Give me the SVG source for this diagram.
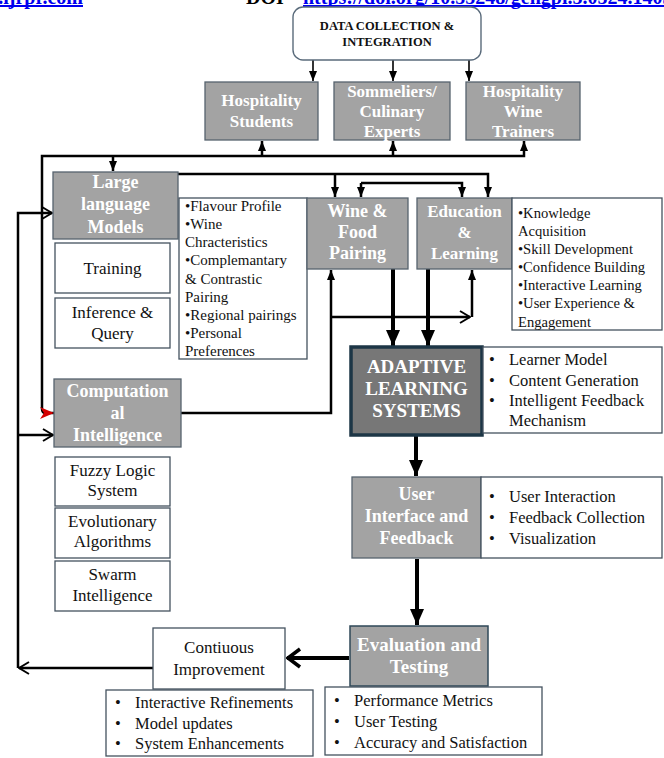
<svg xmlns="http://www.w3.org/2000/svg" width="664" height="758" viewBox="0 0 664 758">
<style>
.g{fill:#a3a3a3;stroke:#56636e;stroke-width:1.3}
.w{fill:#fff;stroke:#44525f;stroke-width:1.3}
.tb{font-family:"Liberation Serif",serif;font-weight:bold;fill:#fff;text-anchor:middle;font-size:18px}
.tc{font-family:"Liberation Serif",serif;fill:#111;text-anchor:middle;font-size:17px}
.t{font-family:"Liberation Serif",serif;fill:#111;font-size:15px}
.tl{font-family:"Liberation Serif",serif;fill:#111;font-size:16.5px}
.c{fill:none;stroke:#000;stroke-width:2.5}
.c1{fill:none;stroke:#000;stroke-width:1.6}
.ck{fill:none;stroke:#000;stroke-width:4}
.hd{font-family:"Liberation Serif",serif;font-weight:bold;font-size:20px}
</style>
<defs>
<marker id="a1" markerUnits="userSpaceOnUse" markerWidth="10" markerHeight="10" viewBox="0 0 10 10" refX="10" refY="5" orient="auto"><path d="M0,1 L10,5 L0,9 z" fill="#000"/></marker>
<marker id="a2" markerUnits="userSpaceOnUse" markerWidth="16" markerHeight="16" viewBox="0 0 16 16" refX="16" refY="8" orient="auto"><path d="M0,1 L16,8 L0,15 z" fill="#000"/></marker>
<marker id="o1" markerUnits="userSpaceOnUse" markerWidth="12" markerHeight="14" viewBox="0 0 12 14" refX="11" refY="7" orient="auto"><path d="M1,1 L11,7 L1,13" fill="none" stroke="#000" stroke-width="2"/></marker>
<marker id="o2" markerUnits="userSpaceOnUse" markerWidth="16" markerHeight="22" viewBox="0 0 16 22" refX="15" refY="11" orient="auto"><path d="M2,2 L14,11 L2,20" fill="none" stroke="#000" stroke-width="3.5"/></marker>
<marker id="r1" markerUnits="userSpaceOnUse" markerWidth="14" markerHeight="12" viewBox="0 0 14 12" refX="14" refY="6" orient="auto"><path d="M0,0 L14,6 L0,12 L4,6 z" fill="#d40000"/></marker>
</defs>

<g id="header">
<text class="hd" x="83" y="4" text-anchor="end" fill="#0000ee">www.ijrpr.com</text>
<line x1="0" y1="6" x2="83" y2="6" stroke="#0000ee" stroke-width="2.2"/>
<text class="hd" x="246" y="4" fill="#000">DOI</text>
<text class="hd" x="303" y="4" fill="#0000ee">https://doi.org/10.55248/gengpi.5.0524.1403</text>
<line x1="303" y1="6" x2="664" y2="6" stroke="#0000ee" stroke-width="2.2"/>
</g>

<g id="connectors">
<path class="c1" d="M313 60 V81" marker-end="url(#a1)"/>
<path class="c1" d="M393 60 V81" marker-end="url(#a1)"/>
<path class="c1" d="M469 60 V81" marker-end="url(#a1)"/>
<path class="c" d="M42 409 V156 H524 V141" marker-end="url(#a1)"/>
<path class="c" d="M262 156 V141" marker-end="url(#a1)"/>
<path class="c" d="M393 156 V141" marker-end="url(#a1)"/>
<path class="c" d="M113 156 V171" marker-end="url(#a1)"/>
<path class="c" d="M42 409 Q42 413 46 413 H54" marker-end="url(#r1)"/>
<path class="c" d="M178 174 H488 V197" marker-end="url(#a1)"/>
<path class="c" d="M335 174 V197" marker-end="url(#a1)"/>
<path class="c" d="M361 183 V197" marker-end="url(#a1)"/>
<path class="c" d="M361 183 H462 V197" marker-end="url(#a1)"/>
<path class="c" d="M153 668 H19" marker-end="url(#o1)"/>
<path class="c" d="M18 668 V213 H52" marker-end="url(#o1)"/>
<path class="c" d="M18 435 H53" marker-end="url(#o1)"/>
<path class="c" d="M181 413 H331 V270" marker-end="url(#a1)"/>
<path class="c" d="M331 317 H470" marker-end="url(#o1)"/>
<path class="c" d="M472 317 V270" marker-end="url(#a1)"/>
<path class="ck" d="M393 269 V346" marker-end="url(#a2)"/>
<path class="ck" d="M428 269 V346" marker-end="url(#a2)"/>
<path class="ck" d="M416 436 V476" marker-end="url(#a2)"/>
<path class="ck" d="M417 559 V625" marker-end="url(#a2)"/>
<path class="ck" d="M349 658 H287" marker-end="url(#o2)"/>
</g>

<g id="data-collection">
<rect x="293" y="7" width="188" height="53" rx="10" fill="#fff" stroke="#5a6b7b" stroke-width="1.4"/>
<text x="387" y="30" font-family="Liberation Serif,serif" font-weight="bold" font-size="12.5" text-anchor="middle" fill="#111">DATA COLLECTION &amp;</text>
<text x="387" y="46" font-family="Liberation Serif,serif" font-weight="bold" font-size="12.5" text-anchor="middle" fill="#111">INTEGRATION</text>
</g>

<g id="hospitality-students">
<rect class="g" x="205" y="82" width="113" height="58"/>
<text class="tb" style="font-size:17px" x="261.5" y="106">Hospitality</text>
<text class="tb" style="font-size:17px" x="261.5" y="127">Students</text>
</g>
<g id="sommeliers">
<rect class="g" x="334" y="82" width="116" height="58"/>
<text class="tb" style="font-size:17px" x="392" y="97">Sommeliers/</text>
<text class="tb" style="font-size:17px" x="392" y="117">Culinary</text>
<text class="tb" style="font-size:17px" x="392" y="137">Experts</text>
</g>
<g id="wine-trainers">
<rect class="g" x="466" y="82" width="114" height="58"/>
<text class="tb" style="font-size:17px" x="523" y="97">Hospitality</text>
<text class="tb" style="font-size:17px" x="523" y="117">Wine</text>
<text class="tb" style="font-size:17px" x="523" y="137">Trainers</text>
</g>

<g id="llm">
<rect class="g" x="53" y="172" width="125" height="67"/>
<text class="tb" x="115.5" y="188">Large</text>
<text class="tb" x="115.5" y="210">language</text>
<text class="tb" x="115.5" y="233">Models</text>
</g>
<g id="training">
<rect class="w" x="55" y="243" width="115" height="50"/>
<text class="tc" x="112.5" y="274">Training</text>
</g>
<g id="inference">
<rect class="w" x="55" y="298" width="115" height="50"/>
<text class="tc" x="112.5" y="318">Inference &amp;</text>
<text class="tc" x="112.5" y="339">Query</text>
</g>
<g id="wine-bullets">
<rect class="w" x="179" y="198" width="128" height="161"/>
<text class="t" x="185" y="211">•Flavour Profile</text>
<text class="t" x="185" y="229">•Wine</text>
<text class="t" x="185" y="247">Chracteristics</text>
<text class="t" x="185" y="265">•Complemantary</text>
<text class="t" x="185" y="284">&amp; Contrastic</text>
<text class="t" x="185" y="302">Pairing</text>
<text class="t" x="185" y="320">•Regional pairings</text>
<text class="t" x="185" y="338">•Personal</text>
<text class="t" x="185" y="356">Preferences</text>
</g>
<g id="wine-food">
<rect class="g" x="307" y="198" width="101" height="71"/>
<text class="tb" x="357.5" y="217">Wine &amp;</text>
<text class="tb" x="357.5" y="238">Food</text>
<text class="tb" x="357.5" y="259">Pairing</text>
</g>
<g id="education">
<rect class="g" x="417" y="198" width="95" height="71"/>
<text class="tb" style="font-size:17px" x="464.5" y="217">Education</text>
<text class="tb" style="font-size:17px" x="464.5" y="238">&amp;</text>
<text class="tb" style="font-size:17px" x="464.5" y="259">Learning</text>
</g>
<g id="education-bullets">
<rect class="w" x="512" y="198" width="150" height="132"/>
<text class="t" style="font-size:14.6px" x="518" y="218">•Knowledge</text>
<text class="t" style="font-size:14.6px" x="518" y="236">Acquisition</text>
<text class="t" style="font-size:14.6px" x="518" y="254">•Skill Development</text>
<text class="t" style="font-size:14.6px" x="518" y="272">•Confidence Building</text>
<text class="t" style="font-size:14.6px" x="518" y="290">•Interactive Learning</text>
<text class="t" style="font-size:14.6px" x="518" y="308">•User Experience &amp;</text>
<text class="t" style="font-size:14.6px" x="518" y="327">Engagement</text>
</g>

<g id="computational-intelligence">
<rect class="g" x="54" y="379" width="127" height="68"/>
<text class="tb" x="117.5" y="397">Computation</text>
<text class="tb" x="117.5" y="419">al</text>
<text class="tb" x="117.5" y="441">Intelligence</text>
</g>
<g id="fuzzy">
<rect class="w" x="55" y="457" width="115" height="49"/>
<text class="tc" x="112.5" y="476">Fuzzy Logic</text>
<text class="tc" x="112.5" y="496">System</text>
</g>
<g id="evolutionary">
<rect class="w" x="55" y="508" width="115" height="50"/>
<text class="tc" x="112.5" y="527">Evolutionary</text>
<text class="tc" x="112.5" y="547">Algorithms</text>
</g>
<g id="swarm">
<rect class="w" x="55" y="561" width="115" height="50"/>
<text class="tc" x="112.5" y="580">Swarm</text>
<text class="tc" x="112.5" y="601">Intelligence</text>
</g>

<g id="adaptive">
<rect x="351" y="347" width="131" height="88" fill="#777" stroke="#1d3646" stroke-width="3.5"/>
<text class="tb" style="font-size:19px" x="416.5" y="373">ADAPTIVE</text>
<text class="tb" style="font-size:19px" x="416.5" y="395">LEARNING</text>
<text class="tb" style="font-size:19px" x="416.5" y="417">SYSTEMS</text>
</g>
<g id="adaptive-bullets">
<rect class="w" x="483" y="347" width="179" height="86"/>
<text class="tl" x="489" y="365">•</text><text class="tl" x="509" y="365">Learner Model</text>
<text class="tl" x="489" y="386">•</text><text class="tl" x="509" y="386">Content Generation</text>
<text class="tl" x="489" y="406">•</text><text class="tl" x="509" y="406">Intelligent Feedback</text>
<text class="tl" x="509" y="426">Mechanism</text>
</g>

<g id="user-interface">
<rect class="g" x="352" y="477" width="129" height="81"/>
<text class="tb" x="416.5" y="500">User</text>
<text class="tb" x="416.5" y="522">Interface and</text>
<text class="tb" x="416.5" y="544">Feedback</text>
</g>
<g id="ui-bullets">
<rect class="w" x="481" y="477" width="181" height="81"/>
<text class="tl" x="489" y="502">•</text><text class="tl" x="509" y="502">User Interaction</text>
<text class="tl" x="489" y="523">•</text><text class="tl" x="509" y="523">Feedback Collection</text>
<text class="tl" x="489" y="544">•</text><text class="tl" x="509" y="544">Visualization</text>
</g>

<g id="evaluation">
<rect x="350" y="626" width="138" height="60" fill="#a3a3a3" stroke="#2f4858" stroke-width="1.5"/>
<text class="tb" style="font-size:19px" x="419" y="651">Evaluation and</text>
<text class="tb" style="font-size:19px" x="419" y="673">Testing</text>
</g>
<g id="evaluation-bullets">
<rect class="w" x="325" y="687" width="217" height="68"/>
<text class="tl" x="334" y="706">•</text><text class="tl" x="354" y="706">Performance Metrics</text>
<text class="tl" x="334" y="727">•</text><text class="tl" x="354" y="727">User Testing</text>
<text class="tl" x="334" y="748">•</text><text class="tl" x="354" y="748">Accuracy and Satisfaction</text>
</g>

<g id="continuous-improvement">
<rect class="w" x="153" y="628" width="132" height="61"/>
<text class="tc" x="219" y="653">Contiuous</text>
<text class="tc" x="219" y="675">Improvement</text>
</g>
<g id="improvement-bullets">
<rect class="w" x="106" y="690" width="207" height="66"/>
<text class="tl" x="115" y="708">•</text><text class="tl" x="135" y="708">Interactive Refinements</text>
<text class="tl" x="115" y="729">•</text><text class="tl" x="135" y="729">Model updates</text>
<text class="tl" x="115" y="749">•</text><text class="tl" x="135" y="749">System Enhancements</text>
</g>
</svg>
